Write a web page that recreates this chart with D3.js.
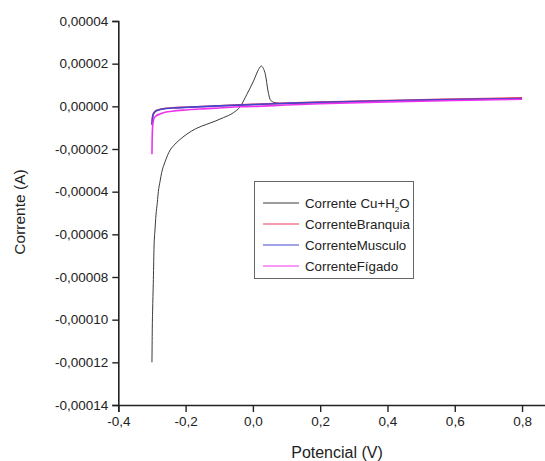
<!DOCTYPE html>
<html>
<head>
<meta charset="utf-8">
<script src="https://cdn.jsdelivr.net/npm/d3@7"></script>
<style>
  body { margin: 0; background: #fff; }
  text { font-family: "Liberation Sans", Arial, sans-serif; fill: #222; }
</style>
</head>
<body>
<script>
// data: potential (V) -> current (A)
var cuV = [-0.300, -0.2995, -0.299, -0.298, -0.297, -0.296, -0.294, -0.291, -0.288, -0.284, -0.281, -0.276, -0.271, -0.261, -0.246,
    -0.236, -0.220, -0.196, -0.170, -0.137, -0.110, -0.0875, -0.058, -0.038, -0.018, 0.002, 0.017, 0.025, 0.031, 0.037,
    0.045, 0.051, 0.058, 0.066, 0.091, 0.2, 0.3, 0.4, 0.5, 0.6, 0.7, 0.8];
var cuI = [-0.000120, -0.000112, -0.000104, -0.000096, -0.000089, -0.000083, -0.000067, -0.000058, -0.000051, -0.000045, -0.000040, -0.0000352, -0.000031, -0.000026, -0.0000205,
    -0.0000185, -0.000016, -0.000013, -0.0000105, -0.0000084, -0.0000068, -0.0000053, -0.000003, -0.0000002, 0.0000056, 0.0000119, 0.0000173, 0.0000189, 0.0000178, 0.000015,
    0.0000072, 0.0000033, 0.0000022, 0.0000017, 0.0000013, 0.0000016, 0.000002, 0.0000024, 0.0000028, 0.0000031, 0.0000034, 0.0000036];

var branquiaV = [-0.300, -0.299, -0.298, -0.296, -0.293, -0.290, -0.280, -0.266, -0.240, -0.2, -0.1, 0.0, 0.1, 0.2, 0.3, 0.4, 0.5, 0.6, 0.7, 0.8];
var branquiaI = [-0.0000082, -0.0000062, -0.0000048, -0.0000036, -0.0000028, -0.0000023, -0.0000016, -0.0000011, -0.0000007, -0.0000004, 0.0000003, 0.0000009, 0.0000015, 0.000002, 0.0000024, 0.0000027, 0.0000031, 0.0000034, 0.0000037, 0.000004];

var musculoV = [-0.300, -0.299, -0.298, -0.296, -0.293, -0.290, -0.280, -0.266, -0.240, -0.2, -0.1, 0.0, 0.1, 0.2, 0.3, 0.4, 0.5, 0.6, 0.7, 0.8];
var musculoI = [-0.0000088, -0.0000065, -0.000005, -0.0000038, -0.000003, -0.0000024, -0.0000017, -0.0000012, -0.0000008, -0.0000005, 0.0000002, 0.0000008, 0.0000014, 0.0000019, 0.0000023, 0.0000026, 0.0000029, 0.0000032, 0.0000034, 0.0000036];

var figadoV = [-0.300, -0.2995, -0.299, -0.298, -0.296, -0.293, -0.286, -0.276, -0.266, -0.240, -0.2, -0.15, -0.1, -0.04, 0.0, 0.1, 0.2, 0.4, 0.6, 0.8];
var figadoI = [-0.0000225, -0.000017, -0.000013, -0.0000095, -0.000007, -0.0000053, -0.0000043, -0.0000036, -0.000003, -0.0000023, -0.0000017, -0.0000012, -0.0000008, -0.0000002, -0.0000001, 0.0000006, 0.0000012, 0.0000021, 0.0000027, 0.0000033];

var seriesNames = ["Corrente Cu+H2O", "CorrenteBranquia", "CorrenteMusculo", "CorrenteFígado"];
var seriesColors = ["#3a3a3a", "#ee3b5b", "#4444cc", "#ee33ee"];

var xTicks = [-0.4, -0.2, 0.0, 0.2, 0.4, 0.6, 0.8];
var xMinor = [-0.3, -0.1, 0.1, 0.3, 0.5, 0.7];
var yTicks = [0.00004, 0.00002, 0, -0.00002, -0.00004, -0.00006, -0.00008, -0.00010, -0.00012, -0.00014];
var yMinor = [0.00003, 0.00001, -0.00001, -0.00003, -0.00005, -0.00007, -0.00009, -0.00011, -0.00013];

var width = 545, height = 461;

// setup scales
var xScale = d3.scaleLinear().domain([-0.4, 0.9]).range([118.3, 555.7]),
    yScale = d3.scaleLinear().domain([-0.00014, 0.00004]).range([405, 21]);

// comma decimals like the original
var locale = d3.formatLocale({ decimal: ",", thousands: ".", grouping: [3], currency: ["", ""], minus: "-" });
var xFormat = locale.format(".1f"),
    yFormat = locale.format(".5f");

var svg = d3.select("body").append("svg")
    .attr("width", width)
    .attr("height", height);

// pair up values into point lists
function zipPts(vs, is) {
    return vs.map(function (v, i) { return { x: v, y: is[i] }; });
}
var series = [
    zipPts(cuV, cuI),
    zipPts(branquiaV, branquiaI),
    zipPts(musculoV, musculoI),
    zipPts(figadoV, figadoI)
];

var line = d3.line()
    .x(function (d) { return xScale(d.x); })
    .y(function (d) { return yScale(d.y); })
    .curve(d3.curveMonotoneX);

// curves
svg.append("g").attr("class", "curves")
    .selectAll("path")
    .data(series)
    .enter().append("path")
    .attr("d", line)
    .attr("fill", "none")
    .attr("stroke", function (d, i) { return seriesColors[i]; })
    .attr("stroke-width", function (d, i) { return i == 0 ? 1 : 1.6; });

// x-axis
var xAxisG = svg.append("g")
    .attr("transform", "translate(0," + yScale(-0.00014) + ")");
xAxisG.call(d3.axisBottom(xScale).tickValues(xMinor).tickSize(3.5).tickFormat(""));
xAxisG.call(d3.axisBottom(xScale).tickValues(xTicks).tickSize(7).tickPadding(4).tickFormat(xFormat));

// y-axis
var yAxisG = svg.append("g")
    .attr("transform", "translate(" + xScale(-0.4) + ",0)");
yAxisG.call(d3.axisLeft(yScale).tickValues(yMinor).tickSize(3.5).tickFormat(""));
yAxisG.call(d3.axisLeft(yScale).tickValues(yTicks).tickSize(6).tickPadding(4).tickFormat(yFormat));

svg.selectAll(".domain").attr("stroke", "#222").attr("stroke-width", 1.6);
svg.selectAll(".tick line").attr("stroke", "#222").attr("stroke-width", 1.4);
svg.selectAll(".tick text").style("font-size", "13.5px").attr("fill", "#222");

// axis titles
svg.append("text")
    .attr("x", 337)
    .attr("y", 458)
    .style("text-anchor", "middle")
    .style("font-size", "16px")
    .text("Potencial (V)");

svg.append("text")
    .attr("transform", "translate(25,212) rotate(-90)")
    .style("text-anchor", "middle")
    .style("font-size", "15.5px")
    .text("Corrente (A)");

// legend
var legend = svg.append("g").attr("class", "legend");
legend.append("rect")
    .attr("x", 254.5)
    .attr("y", 181.5)
    .attr("width", 159)
    .attr("height", 97)
    .attr("fill", "#fff")
    .attr("stroke", "#666")
    .attr("stroke-width", 1);

var rowY = [203, 224, 245, 266];
seriesNames.forEach(function (name, i) {
    legend.append("line")
        .attr("x1", 263).attr("x2", 299)
        .attr("y1", rowY[i]).attr("y2", rowY[i])
        .attr("stroke", seriesColors[i])
        .attr("stroke-width", 1);
    var t = legend.append("text")
        .attr("x", 305)
        .attr("y", rowY[i] + 5)
        .style("font-size", "13.3px");
    if (i == 0) {
        t.append("tspan").text("Corrente Cu+H");
        t.append("tspan").attr("dy", 4).style("font-size", "8px").text("2");
        t.append("tspan").attr("dy", -4).text("O");
    } else {
        t.text(name);
    }
});
</script>
</body>
</html>
